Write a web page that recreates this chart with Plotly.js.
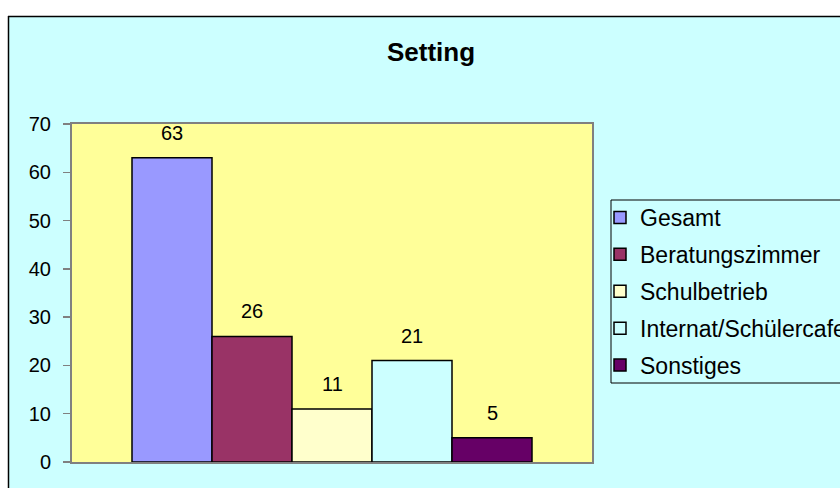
<!DOCTYPE html>
<html>
<head>
<meta charset="utf-8">
<script src="https://cdn.plot.ly/plotly-3.0.1.min.js"></script>
<style>html,body{margin:0;padding:0;background:#fff;}#chart{width:840px;height:488px;}</style>
</head>
<body>
<div id="chart"></div>
<script>
// ---- data ----
var categories = ['Gesamt', 'Beratungszimmer', 'Schulbetrieb', 'Internat/Schülercafe', 'Sonstiges'];
var values = [63, 26, 11, 21, 5];
var colors = ['#9999FF', '#993366', '#FFFFCC', '#CCFFFF', '#660066'];
var chartTitle = 'Setting';
var yTicks = [0, 10, 20, 30, 40, 50, 60, 70];

// ---- layout geometry (pixels) ----
var W = 840, H = 488;
var M = {l: 72, r: 248, t: 124, b: 26, autoexpand: false};
var pw = W - M.l - M.r, ph = H - M.t - M.b;
function px2x(p) { return (p - M.l) / pw; }
function px2y(p) { return (H - M.b - p) / ph; }

var FONT = 'Arial, "Liberation Sans", sans-serif';

var traces = categories.map(function (c, i) {
  return {
    type: 'bar',
    name: c,
    x: [i],
    y: [values[i]],
    width: [1],
    legendgroup: 'g' + i,
    marker: {color: colors[i], line: {color: '#000', width: 1.5}},
    hoverinfo: 'skip'
  };
});

var annotations = categories.map(function (c, i) {
  return {
    x: i, y: values[i], xref: 'x', yref: 'y',
    text: String(values[i]), showarrow: false,
    yanchor: 'middle', yshift: 25,
    font: {family: FONT, size: 20, color: '#000'}
  };
});

var shapes = [
  // white margins outside the chart frame
  {type: 'rect', xref: 'paper', yref: 'paper', x0: px2x(-5), x1: px2x(8), y0: px2y(H + 5), y1: px2y(-5), fillcolor: '#fff', line: {width: 0}, layer: 'below'},
  {type: 'rect', xref: 'paper', yref: 'paper', x0: px2x(-5), x1: px2x(W + 5), y0: px2y(16), y1: px2y(-5), fillcolor: '#fff', line: {width: 0}, layer: 'below'},
  // chart frame lines
  {type: 'line', xref: 'paper', yref: 'paper', x0: px2x(8.5), x1: px2x(8.5), y0: px2y(16), y1: px2y(H + 5), line: {color: '#000', width: 1.5}},
  {type: 'line', xref: 'paper', yref: 'paper', x0: px2x(8), x1: px2x(W + 5), y0: px2y(16.5), y1: px2y(16.5), line: {color: '#000', width: 1.5}},
  // legend box
  {type: 'rect', xref: 'paper', yref: 'paper', x0: px2x(611), x1: px2x(W + 20), y0: px2y(383), y1: px2y(200), line: {color: '#000', width: 1}, fillcolor: 'rgba(0,0,0,0)'}
];

var layout = {
  width: W, height: H,
  margin: M,
  paper_bgcolor: '#CCFFFF',
  plot_bgcolor: '#FFFF99',
  font: {family: FONT, color: '#000'},
  title: {
    text: '<b>' + chartTitle + '</b>',
    font: {family: FONT, size: 26, color: '#000'},
    x: 431 / W, xanchor: 'center', xref: 'container',
    y: 1 - 52 / H, yanchor: 'middle', yref: 'container'
  },
  barmode: 'overlay',
  showlegend: true,
  legend: {
    x: px2x(600), xanchor: 'left',
    y: px2y(196), yanchor: 'top',
    font: {family: FONT, size: 23, color: '#000'},
    bgcolor: 'rgba(0,0,0,0)', borderwidth: 0,
    traceorder: 'grouped', tracegroupgap: 4,
    itemclick: false, itemdoubleclick: false
  },
  xaxis: {
    range: [-1.25, 5.25], showticklabels: false, ticks: '',
    showgrid: false, zeroline: false,
    showline: true, mirror: true, linecolor: '#808080', linewidth: 2
  },
  yaxis: {
    range: [0, 70], tickvals: yTicks, ticktext: yTicks.map(String),
    ticks: 'outside', ticklen: 7, tickcolor: '#808080', tickwidth: 1.5,
    ticklabelstandoff: 8,
    tickfont: {family: FONT, size: 20, color: '#000'},
    showgrid: false, zeroline: false,
    showline: true, mirror: true, linecolor: '#808080', linewidth: 2
  },
  annotations: annotations,
  shapes: shapes
};

Plotly.newPlot('chart', traces, layout, {displayModeBar: false, staticPlot: true});
</script>
</body>
</html>
